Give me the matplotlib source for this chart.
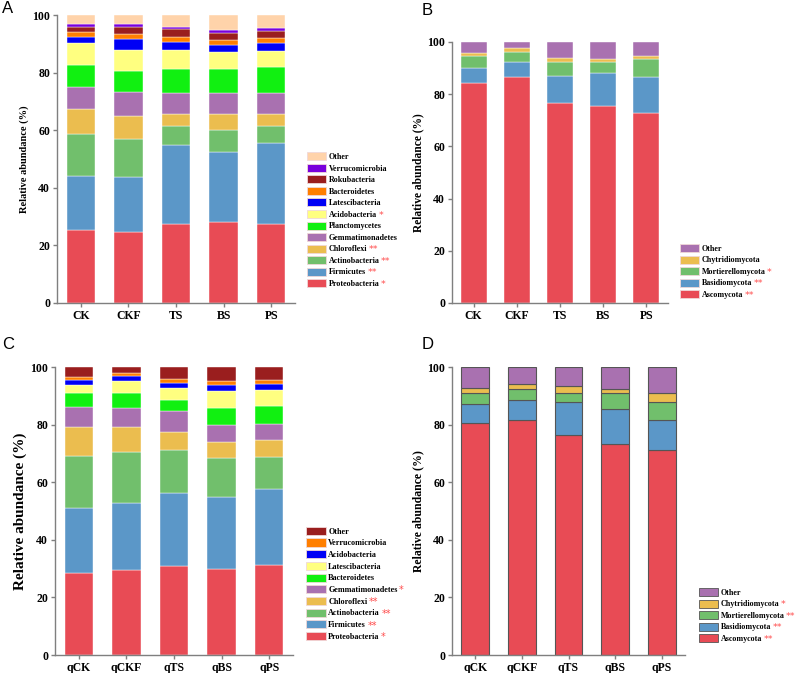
import matplotlib.pyplot as plt
from matplotlib.patches import Patch

# panel A - bacteria (segments bottom -> top, %)
grpA = ['CK', 'CKF', 'TS', 'BS', 'PS']
taxaA = ['Proteobacteria', 'Firmicutes', 'Actinobacteria', 'Chloroflexi', 'Gemmatimonadetes',
         'Planctomycetes', 'Acidobacteria', 'Latescibacteria', 'Bacteroidetes', 'Rokubacteria',
         'Verrucomicrobia', 'Other']
starsA = ['*', '**', '**', '**', '', '', '*', '', '', '', '', '']
valsA = [
    [25.4, 24.6, 27.5, 28.2, 27.5],
    [18.8, 19.3, 27.2, 24.4, 28.0],
    [14.5, 13.0, 6.8, 7.3, 6.0],
    [8.7, 8.1, 4.2, 5.8, 4.2],
    [7.6, 8.1, 7.1, 7.1, 7.1],
    [7.8, 7.6, 8.5, 8.5, 9.3],
    [7.4, 7.2, 6.7, 5.8, 5.4],
    [2.3, 3.8, 2.6, 2.4, 2.7],
    [1.7, 1.8, 1.8, 1.8, 1.8],
    [1.6, 2.2, 2.6, 2.3, 2.5],
    [1.2, 1.1, 1.0, 1.3, 1.1],
    [3.0, 3.2, 4.0, 5.1, 4.4],
]

# panel B - fungi
taxaB = ['Ascomycota', 'Basidiomycota', 'Mortierellomycota', 'Chytridiomycota', 'Other']
starsB = ['**', '**', '*', '', '']
valsB = [
    [84.2, 86.5, 76.5, 75.6, 72.7],
    [5.9, 6.0, 10.5, 12.5, 14.0],
    [4.7, 3.8, 5.3, 4.4, 6.9],
    [0.9, 1.5, 1.7, 1.1, 1.2],
    [4.3, 2.2, 6.0, 6.4, 5.2],
]

# panel C - bacteria (q samples)
grpC = ['qCK', 'qCKF', 'qTS', 'qBS', 'qPS']
taxaC = ['Proteobacteria', 'Firmicutes', 'Actinobacteria', 'Chloroflexi', 'Gemmatimonadetes',
         'Bacteroidetes', 'Latescibacteria', 'Acidobacteria', 'Verrucomicrobia', 'Other']
starsC = ['*', '**', '**', '**', '*', '', '', '', '', '']
valsC = [
    [28.3, 29.5, 31.0, 29.9, 31.1],
    [22.8, 23.3, 25.4, 24.8, 26.5],
    [18.1, 17.7, 14.7, 13.7, 11.2],
    [9.8, 8.7, 6.4, 5.6, 5.7],
    [7.0, 6.7, 7.1, 5.8, 5.8],
    [4.8, 5.0, 4.1, 6.1, 6.3],
    [3.1, 4.1, 4.0, 5.9, 5.4],
    [1.6, 1.9, 1.9, 1.8, 2.0],
    [0.9, 1.0, 1.2, 1.7, 1.4],
    [3.6, 2.1, 4.2, 4.7, 4.6],
]

# panel D - fungi (q samples)
starsD = ['**', '**', '**', '*', '']
valsD = [
    [80.7, 81.5, 76.4, 73.1, 71.3],
    [6.6, 7.1, 11.6, 12.3, 10.3],
    [3.8, 3.9, 3.1, 5.4, 6.4],
    [1.6, 1.7, 2.3, 1.6, 3.0],
    [7.3, 5.8, 6.6, 7.6, 9.0],
]

colA = ['#E84B55', '#5B97C8', '#71BF6C', '#EBBD4F', '#A971B0', '#11F011',
        '#FFFF80', '#0000F5', '#FF7F00', '#9A1E1E', '#7800DC', '#FFD3AA']
colC = ['#E84B55', '#5B97C8', '#71BF6C', '#EBBD4F', '#A971B0', '#11F011',
        '#FFFF80', '#0000F5', '#FF7F00', '#9A1E1E']
colB = ['#E84B55', '#5B97C8', '#71BF6C', '#EBBD4F', '#A971B0']

W, H = 795, 673
fig = plt.figure(figsize=(W / 100, H / 100), dpi=100)
serif = ['Liberation Serif', 'DejaVu Serif']


def panel(rect, groups, taxa, vals, cols, stars, leg_xy, edge, lw, ylab_size, fs_leg, letter, letter_xy):
    l, t, r, b = rect
    ax = fig.add_axes([l / W, 1 - b / H, (r - l) / W, (b - t) / H])
    x = list(range(len(groups)))
    bottom = [0.0] * len(groups)
    for v, c in zip(vals, cols):
        ax.bar(x, v, width=0.6, bottom=bottom, color=c, edgecolor=edge, linewidth=lw)
        bottom = [bb + vv for bb, vv in zip(bottom, v)]
    ax.set_xlim(-0.5, len(groups) - 0.5)
    ax.set_ylim(0, 100)
    ax.set_yticks([0, 20, 40, 60, 80, 100])
    ax.set_xticks(x)
    ax.set_xticklabels(groups)
    for s in ['top', 'right']:
        ax.spines[s].set_visible(False)
    for s in ['left', 'bottom']:
        ax.spines[s].set_color('#7f7f7f')
        ax.spines[s].set_linewidth(1.0)
    ax.tick_params(axis='both', colors='#7f7f7f', length=3.0, width=1.0, labelcolor='black')
    ax.tick_params(axis='x', pad=2)
    ax.tick_params(axis='y', pad=2)
    for lab in ax.get_xticklabels() + ax.get_yticklabels():
        lab.set_fontfamily(serif)
        lab.set_fontweight('bold')
        lab.set_fontsize(8.5)
    ax.set_ylabel('Relative abundance (%)', fontfamily=serif, fontweight='bold',
                  fontsize=ylab_size, labelpad=2)

    handles = [Patch(facecolor=c, edgecolor=edge if edge != 'white' else '#f0d8d8', linewidth=0.6)
               for c in cols]
    leg = ax.legend(handles[::-1], taxa[::-1], loc='lower left',
                    bbox_to_anchor=(leg_xy[0] / W, 1 - leg_xy[1] / H),
                    bbox_transform=fig.transFigure, frameon=False, borderpad=0,
                    handlelength=2.4, handleheight=1.15, labelspacing=0.35, handletextpad=0.3,
                    prop={'family': serif, 'weight': 'bold', 'size': fs_leg})
    fig.canvas.draw()
    for txt, st in zip(leg.get_texts(), stars[::-1]):
        if st:
            ax.annotate(st, xy=(1, 0.45), xycoords=txt, xytext=(1, 0), textcoords='offset points',
                        va='center', ha='left', color='#FF4B4B', fontsize=fs_leg + 1,
                        fontfamily='DejaVu Sans')
    fig.text(letter_xy[0] / W, 1 - letter_xy[1] / H, letter, fontsize=12,
             fontfamily='Liberation Sans', va='top', ha='left')
    return ax


panel((57, 15, 295, 303), grpA, taxaA, valsA, colA, starsA, (303, 292), 'white', 0.3, 7.5, 5.8, 'A', (2, 1))
panel((452, 42, 668, 303), grpA, taxaB, valsB, colB, starsB, (676, 303), 'white', 0.3, 8.3, 5.8, 'B', (422, 3))
panel((55, 367, 293, 655), grpC, taxaC, valsC, colC, starsC, (302, 645), 'white', 0.3, 11, 5.9, 'C', (2, 337))
panel((452, 367, 685, 655), grpC, taxaB, valsD, colB, starsD, (695, 647), '#555555', 0.8, 8.5, 5.8, 'D', (422, 337))

fig.savefig('out.png', dpi=100)
